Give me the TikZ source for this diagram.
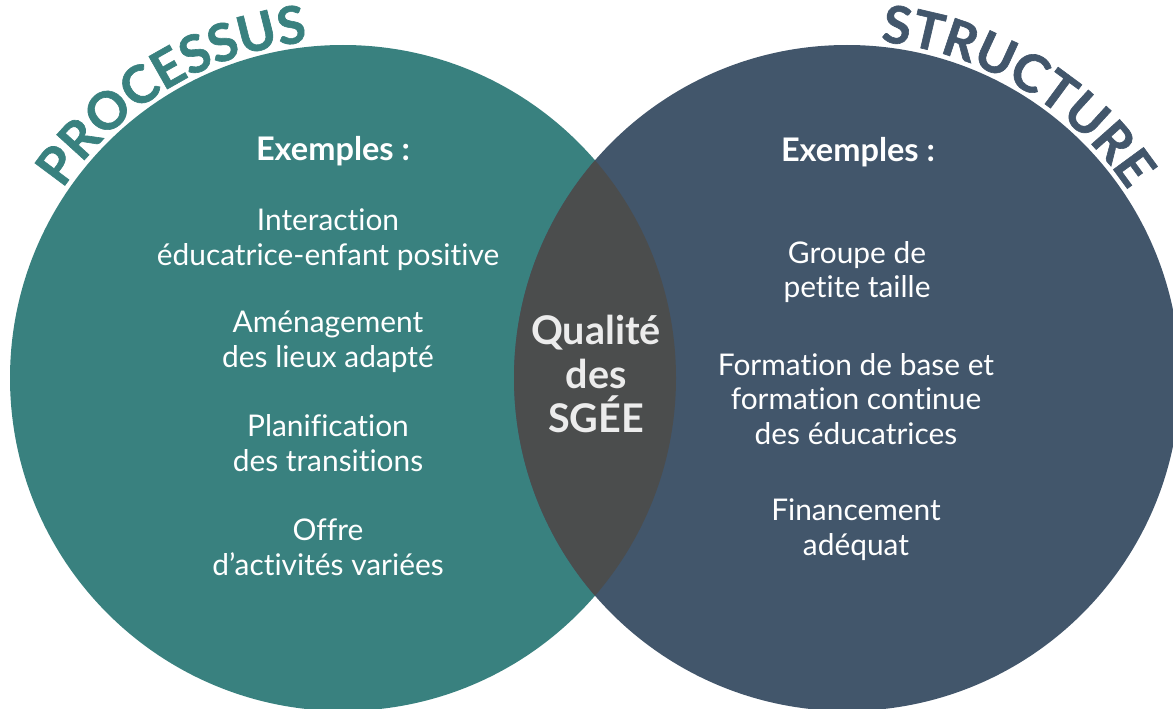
\documentclass[tikz,border=0pt]{standalone}
\usepackage{fontspec}
\setmainfont{Lato}[Ligatures=NoCommon]
\newfontfamily\titlefont{Lato}[Ligatures=NoCommon, BoldFeatures={FakeBold=1.2}]
\usepackage{xcolor}
\usepackage{tikz}
\usetikzlibrary{decorations.text}

\definecolor{procteal}{HTML}{39817F}
\definecolor{structblue}{HTML}{42566B}
\definecolor{overlapgray}{HTML}{4B4D4D}
\definecolor{qualtext}{HTML}{ECECEC}

\begin{document}
\begin{tikzpicture}[
    x=0.02cm, y=0.02cm,
    item/.style={text=white, align=center, inner sep=0pt, font=\fontsize{17}{19.8}\selectfont},
    head/.style={item, font=\fontsize{18.5}{19.8}\selectfont\bfseries},
    core/.style={text=qualtext, align=center, inner sep=0pt, font=\fontsize{22.5}{25}\selectfont\bfseries},
    arctitle/.style 2 args={decorate, decoration={text along path, text align=center,
        text color=#1, text={|\titlefont\fontsize{29.5}{29.5}\selectfont\bfseries|#2}}}
]
    \useasboundingbox (0,0) rectangle (1173,708);
    \coordinate (cL) at (343,330);
    \coordinate (cR) at (847,330);

    % the two sets and their overlap
    \fill[procteal] (cL) circle (333);
    \fill[structblue] (cR) circle (333);
    \begin{scope}
        \clip (cL) circle (333);
        \fill[overlapgray] (cR) circle (333);
    \end{scope}

    % curved titles
    \path[arctitle={procteal}{PROCESSUS}] (cL) ++(161:338) arc[start angle=161, end angle=81, radius=338];
    \path[arctitle={structblue}{STRUCTURE}] (cR) ++(99:338) arc[start angle=99, end angle=19, radius=338];

    % left set
    \node[head] (exL) at (333,557) {Exemples :};
    \node[item] (inter) at (328,468) {Interaction\\éducatrice-enfant positive};
    \node[item] (amen) at (328,366) {Aménagement\\des lieux adapté};
    \node[item] (plan) at (328,265) {Planification\\des transitions};
    \node[item] (offre) at (328,161) {Offre\\d’activités variées};

    % right set
    \node[head] (exR) at (858,556) {Exemples :};
    \node[item] (groupe) at (857,436) {Groupe de\\petite taille};
    \node[item] (form) at (856,309) {Formation de base et\\formation continue\\des éducatrices};
    \node[item] (fin) at (856,178) {Financement\\adéquat};

    % overlap
    \node[core] (qual) at (596,334) {Qualité\\des\\SGÉE};
\end{tikzpicture}
\end{document}
